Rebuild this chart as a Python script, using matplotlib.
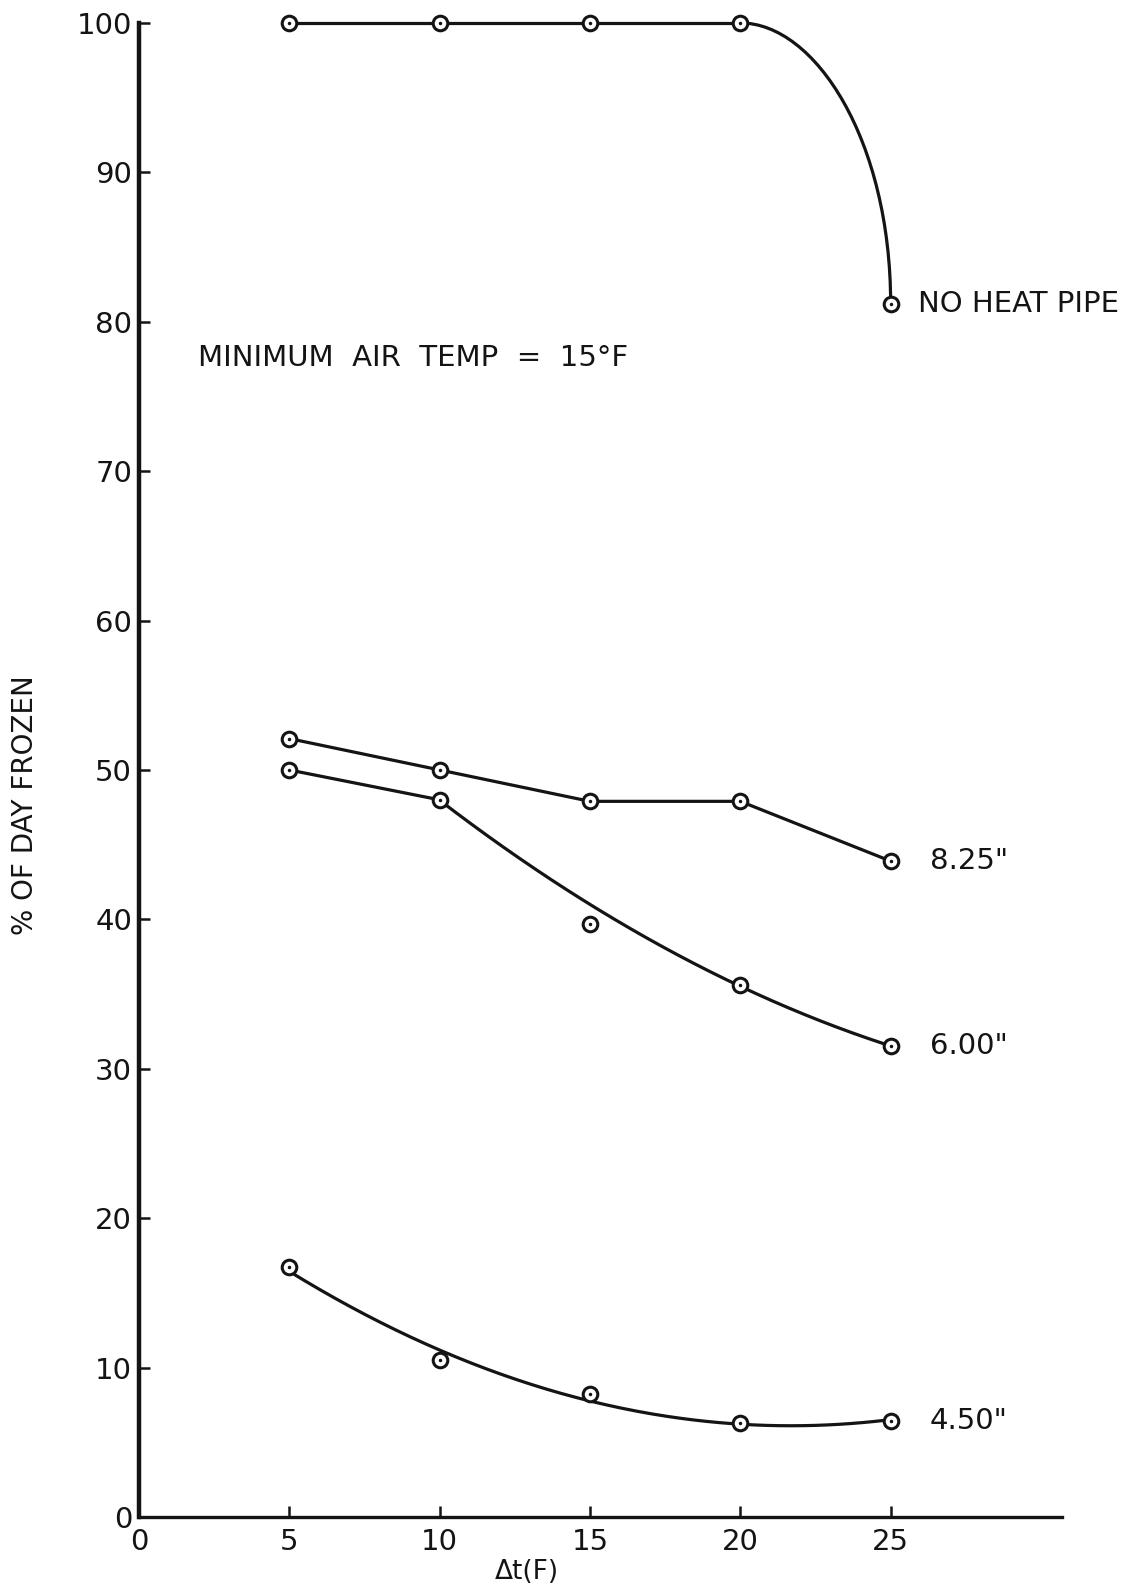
#!/usr/bin/env python3
# frozen_fraction.py - percent of day frozen vs. delta t, heat pipe runs

import numpy as np
import matplotlib
matplotlib.use("Agg")
import matplotlib.pyplot as plt
from matplotlib.path import Path
from matplotlib.patches import PathPatch

plt.rcParams['font.family'] = ['DejaVu Sans']

dt = [5, 10, 15, 20, 25]                      # delta t (F)
no_pipe = [100, 100, 100, 100, 81.2]          # no heat pipe
pipe_825 = [52.1, 50.0, 47.9, 47.9, 43.9]     # 8.25 in.
pipe_600 = [50.0, 48.0, 39.7, 35.6, 31.5]     # 6.00 in.
pipe_450 = [16.7, 10.5, 8.2, 6.3, 6.4]        # 4.50 in.

x_ticks = [0, 5, 10, 15, 20, 25]
y_ticks = [0, 10, 20, 30, 40, 50, 60, 70, 80, 90, 100]
series_labels = ['NO HEAT PIPE', '8.25"', '6.00"', '4.50"']

INK = '#141414'
LW = 2.3
FS = 21


def markers(ax, x, y):
    # open circle with a dot in the middle
    ax.plot(x, y, 'o', ms=10.5, mfc='white', mec=INK, mew=2.2,
            zorder=4, clip_on=False)
    ax.plot(x, y, '.', ms=3, color=INK, zorder=5, clip_on=False)


def plot(ax):
    x = np.array(dt, dtype=float)

    # no heat pipe: flat, then bends down to the last point
    ax.plot(x[:4], no_pipe[:4], color=INK, lw=LW, clip_on=False, zorder=3)
    x0, y0 = x[3], no_pipe[3]
    x1, y1 = x[4], no_pipe[4]
    verts = [(x0, y0),
             (x0 + 0.5 * (x1 - x0), y0),
             (x1, y0 - 0.42 * (y0 - y1)),
             (x1, y1)]
    codes = [Path.MOVETO, Path.CURVE4, Path.CURVE4, Path.CURVE4]
    ax.add_patch(PathPatch(Path(verts, codes), fill=False, ec=INK, lw=LW,
                           zorder=3, clip_on=False))

    # 8.25 in. - straight segments
    ax.plot(x, pipe_825, color=INK, lw=LW, zorder=3)

    # 6.00 in. - straight to 10, then a smooth fitted curve
    ax.plot(x[:2], pipe_600[:2], color=INK, lw=LW, zorder=3)
    c = np.polyfit(x[1:], pipe_600[1:], 2, w=[1, 0.25, 1, 1])
    xs = np.linspace(x[1], x[4], 200)
    ax.plot(xs, np.polyval(c, xs), color=INK, lw=LW, zorder=3)

    # 4.50 in. - quadratic fit through all points
    c = np.polyfit(x, pipe_450, 2)
    xs = np.linspace(x[0], x[4], 200)
    ax.plot(xs, np.polyval(c, xs), color=INK, lw=LW, zorder=3)

    for ys in (no_pipe, pipe_825, pipe_600, pipe_450):
        markers(ax, x, ys)

    # curve labels at the right-hand end
    ends = [no_pipe[-1], pipe_825[-1], pipe_600[-1], pipe_450[-1]]
    offs = [0.9, 1.3, 1.3, 1.3]
    for lab, yv, off in zip(series_labels, ends, offs):
        ax.text(x[-1] + off, yv, lab, fontsize=FS, color=INK,
                ha='left', va='center')

    ax.text(1.95, 77.6, 'MINIMUM  AIR  TEMP  =  15°F', fontsize=FS,
            color=INK, ha='left', va='center')

    ax.set_xlim(0, 30.7)
    ax.set_ylim(0, 100)
    ax.set_xticks(x_ticks)
    ax.set_yticks(y_ticks)
    ax.set_xticklabels([str(t) for t in x_ticks])
    ax.set_yticklabels([str(t) for t in y_ticks])

    for s in ('top', 'right'):
        ax.spines[s].set_visible(False)
    ax.spines['left'].set_linewidth(3.2)
    ax.spines['bottom'].set_linewidth(2.4)
    ax.spines['left'].set_color(INK)
    ax.spines['bottom'].set_color(INK)
    ax.tick_params(axis='both', direction='in', length=8, width=1.8,
                   colors=INK, labelsize=FS)
    ax.tick_params(axis='y', pad=5)
    ax.tick_params(axis='x', pad=8)

    ax.text(12.9, -3.7, 'Δt(F)', fontsize=FS - 2, color=INK,
            ha='center', va='center', clip_on=False)
    ax.text(-0.1235, 0.4766, '% OF DAY FROZEN', transform=ax.transAxes,
            rotation=90, fontsize=FS - 1, color=INK,
            ha='center', va='center')


def main():
    fig = plt.figure(figsize=(11.35, 15.83), dpi=100)
    ax = fig.add_axes([0.1225, 0.0417, 0.8132, 0.9438])
    plot(ax)
    fig.savefig('out.png', dpi=100, facecolor='white')


if __name__ == "__main__":
    main()
